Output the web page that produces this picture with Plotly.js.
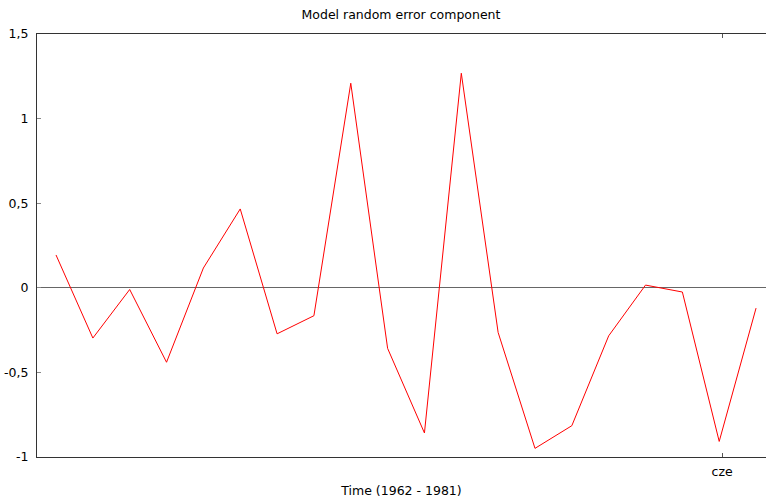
<!DOCTYPE html>
<html>
<head>
<meta charset="utf-8">
<script src="https://cdn.plot.ly/plotly-3.0.1.min.js"></script>
<style>html,body{margin:0;padding:0;background:#fff;}#chart{width:766px;height:501px;}</style>
</head>
<body>
<div id="chart"></div>
<script>
const years = [1962,1963,1964,1965,1966,1967,1968,1969,1970,1971,1972,1973,1974,1975,1976,1977,1978,1979,1980,1981];
const errors = [0.194,-0.297,-0.010,-0.440,0.117,0.466,-0.272,-0.165,1.209,-0.358,-0.858,1.268,-0.264,-0.949,-0.815,-0.284,0.016,-0.025,-0.908,-0.120];
const yTickVals = [-1,-0.5,0,0.5,1,1.5];
const yTickText = ["-1","-0,5","0","0,5","1","1,5"];
const xTickVals = [1980.08];
const xTickText = ["cze"];

const font = {family: "DejaVu Sans, Verdana, sans-serif", size: 12.5, color: "#000"};

Plotly.newPlot("chart", [{
  x: years, y: errors, type: "scatter", mode: "lines",
  line: {color: "#ff0000", width: 1}, hoverinfo: "skip"
}], {
  width: 766, height: 501,
  margin: {l: 37, r: 0, t: 34, b: 44},
  paper_bgcolor: "#fff", plot_bgcolor: "#fff",
  showlegend: false,
  font: font,
  title: {text: "Model random error component", font: font, x: 0.5235, xanchor: "center", y: 0.97, yanchor: "middle"},
  xaxis: {
    range: [1961.484, 1981.27], tickmode: "array", tickvals: xTickVals, ticktext: xTickText,
    ticks: "inside", ticklen: 4, tickcolor: "#555", showgrid: false, zeroline: false,
    showline: true, linecolor: "#333", linewidth: 1, mirror: "ticks",
    title: {text: "Time (1962 - 1981)", font: font, standoff: 8},
    tickfont: font, ticklabelstandoff: 3
  },
  yaxis: {
    range: [-1, 1.5], tickmode: "array", tickvals: yTickVals, ticktext: yTickText,
    ticks: "inside", ticklen: 4, tickcolor: "#888", showgrid: false,
    zeroline: true, zerolinecolor: "#666", zerolinewidth: 1,
    showline: true, linecolor: "#333", linewidth: 1,
    tickfont: font, ticklabelstandoff: 5
  }
}, {staticPlot: true});
</script>
</body>
</html>
